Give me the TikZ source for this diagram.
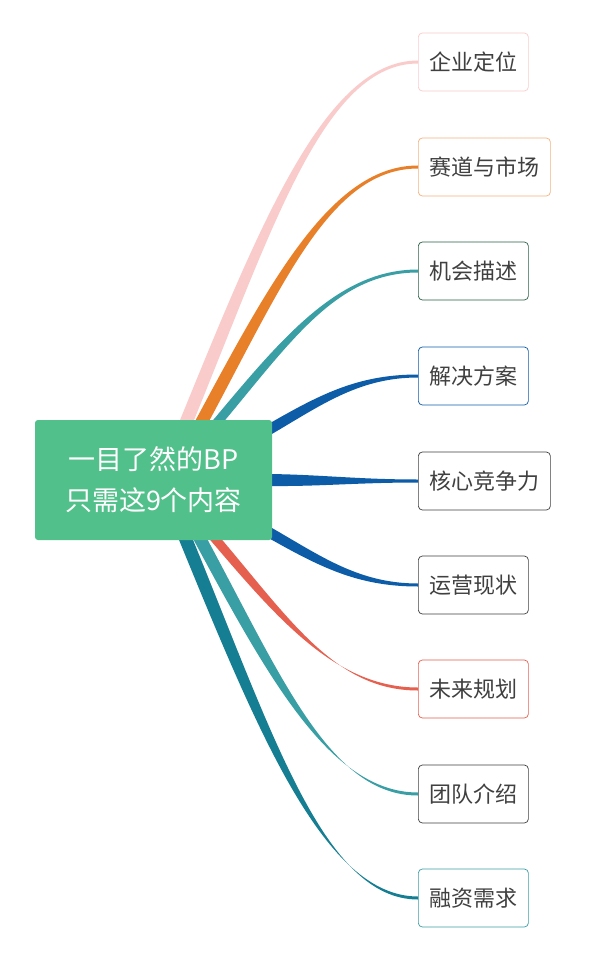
\documentclass[tikz,border=0pt]{standalone}
\usepackage{fontspec}
\setmainfont{Noto Sans CJK SC}
\definecolor{cpink}{HTML}{F9CCCB}
\definecolor{corange}{HTML}{E8802A}
\definecolor{cteal}{HTML}{3A9EA5}
\definecolor{cblue}{HTML}{0D5CA8}
\definecolor{cred}{HTML}{E5604F}
\definecolor{cdteal}{HTML}{167E92}
\definecolor{cgreen}{HTML}{52C08A}
\definecolor{ctxt}{HTML}{404040}
\tikzset{
 leaf/.style={draw=#1,line width=0.7pt,rounded corners=4pt,anchor=west,minimum height=58pt,inner xsep=11pt,text=ctxt,font=\fontsize{22pt}{25pt}\selectfont},
 rootbox/.style={fill=cgreen,rounded corners=3pt,text=white,align=center,minimum width=237pt,minimum height=120pt,font=\fontsize{27pt}{41pt}\selectfont}
}
\newcommand{\branch}[6]{% color, sx, sy, ox, oy, end y (end x = 418)
 \fill[#1]
  ({#2-#4},{#3-#5}) .. controls ({#2+0.35*(418-#2)-#4},{#3+0.55*(#6-#3)-#5}) and ({418-0.4*(418-#2)},{#6-1.5}) .. (418,{#6-1.5})
  -- (418,{#6+1.5}) .. controls ({418-0.4*(418-#2)},{#6+1.5}) and ({#2+0.35*(418-#2)+#4},{#3+0.55*(#6-#3)+#5}) .. ({#2+#4},{#3+#5}) -- cycle;}
\begin{document}
\begin{tikzpicture}[x=1pt,y=-1pt]
\useasboundingbox[fill=white] (0,0) rectangle (604,960);
\node[leaf=cpink] (l1) at (418,62) {企业定位};
\node[leaf=corange!60] (l2) at (418,167) {赛道与市场};
\node[leaf=cgreen!50!black] (l3) at (418,271) {机会描述};
\node[leaf=cblue] (l4) at (418,376) {解决方案};
\node[leaf=ctxt] (l5) at (418,481) {核心竞争力};
\node[leaf=ctxt] (l6) at (418,585) {运营现状};
\node[leaf=cred] (l7) at (418,689) {未来规划};
\node[leaf=ctxt] (l8) at (418,794) {团队介绍};
\node[leaf=cteal] (l9) at (418,898) {融资需求};
\branch{cpink}{185}{425}{7}{0}{62}
\branch{corange}{200}{425}{7}{0}{167}
\branch{cteal}{215}{425}{6}{0}{271}
\branch{cblue}{265}{432}{0}{6}{376}
\branch{cblue}{268}{480}{0}{6}{481}
\branch{cblue}{265}{530}{0}{6}{585}
\branch{cred}{212}{535}{6}{0}{689}
\branch{cteal}{198}{535}{7}{0}{794}
\branch{cdteal}{184}{535}{7}{0}{898}
\node[rootbox] (r) at (153.5,480) {一目了然的BP\\只需这9个内容};
\end{tikzpicture}
\end{document}
